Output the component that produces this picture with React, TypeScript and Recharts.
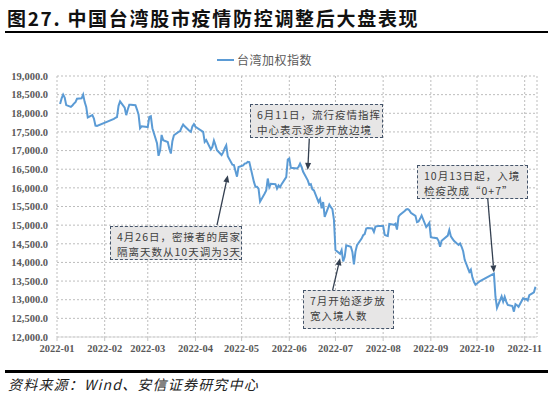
import React from 'react';
import { LineChart, Line, XAxis, YAxis, CartesianGrid, ReferenceLine } from 'recharts';

// month gridlines / x tick labels
const monthLabels = ['2022-01', '2022-02', '2022-03', '2022-04', '2022-05', '2022-06', '2022-07', '2022-08', '2022-09', '2022-10', '2022-11'];
const yTicks = [12000, 12500, 13000, 13500, 14000, 14500, 15000, 15500, 16000, 16500, 17000, 17500, 18000, 18500, 19000];

// 台湾加权指数
const taiex: [string, number][] = [
  ['2022-01-03', 18250], ['2022-01-04', 18400], ['2022-01-05', 18500], ['2022-01-06', 18420], ['2022-01-07', 18220],
  ['2022-01-10', 18170], ['2022-01-11', 18210], ['2022-01-12', 18260], ['2022-01-13', 18300], ['2022-01-14', 18390],
  ['2022-01-17', 18400], ['2022-01-18', 18500], ['2022-01-19', 18300], ['2022-01-20', 18170], ['2022-01-21', 17890],
  ['2022-01-24', 17950], ['2022-01-25', 17860], ['2022-01-26', 17670], ['2022-01-27', 17660],
  ['2022-02-07', 17850], ['2022-02-08', 17880], ['2022-02-09', 17900], ['2022-02-10', 18200], ['2022-02-11', 18320],
  ['2022-02-14', 18150], ['2022-02-15', 17950], ['2022-02-16', 18100], ['2022-02-17', 18230], ['2022-02-18', 18230],
  ['2022-02-21', 18215], ['2022-02-22', 18100], ['2022-02-23', 17970], ['2022-02-24', 17600], ['2022-02-25', 17650],
  ['2022-03-01', 17630], ['2022-03-02', 17900], ['2022-03-03', 17920], ['2022-03-04', 17600],
  ['2022-03-07', 17200], ['2022-03-08', 16860], ['2022-03-09', 17000], ['2022-03-10', 17420], ['2022-03-11', 17280],
  ['2022-03-14', 17230], ['2022-03-15', 17050], ['2022-03-16', 16920], ['2022-03-17', 17250], ['2022-03-18', 17410],
  ['2022-03-21', 17500], ['2022-03-22', 17520], ['2022-03-23', 17620], ['2022-03-24', 17700], ['2022-03-25', 17650],
  ['2022-03-28', 17530], ['2022-03-29', 17500], ['2022-03-30', 17650], ['2022-03-31', 17710],
  ['2022-04-01', 17640], ['2022-04-06', 17500], ['2022-04-07', 17230], ['2022-04-08', 17280],
  ['2022-04-11', 17030], ['2022-04-12', 17100], ['2022-04-13', 17270], ['2022-04-14', 17150], ['2022-04-15', 17010],
  ['2022-04-18', 16880], ['2022-04-19', 16950], ['2022-04-20', 17060], ['2022-04-21', 17140], ['2022-04-22', 16850],
  ['2022-04-25', 16620], ['2022-04-26', 16610], ['2022-04-27', 16450], ['2022-04-28', 16300], ['2022-04-29', 16560],
  ['2022-05-02', 16600], ['2022-05-03', 16650], ['2022-05-04', 16660], ['2022-05-05', 16700], ['2022-05-06', 16690],
  ['2022-05-09', 16160], ['2022-05-10', 16030], ['2022-05-11', 16030], ['2022-05-12', 15980], ['2022-05-13', 15630],
  ['2022-05-16', 15850], ['2022-05-17', 15930], ['2022-05-18', 16250], ['2022-05-19', 16020], ['2022-05-20', 16110],
  ['2022-05-23', 16100], ['2022-05-24', 15980], ['2022-05-25', 16070], ['2022-05-26', 16020], ['2022-05-27', 16100],
  ['2022-05-30', 16290], ['2022-05-31', 16760],
  ['2022-06-01', 16790], ['2022-06-02', 16540], ['2022-06-06', 16520], ['2022-06-07', 16560], ['2022-06-08', 16650],
  ['2022-06-09', 16560], ['2022-06-10', 16430], ['2022-06-13', 16200], ['2022-06-14', 16080], ['2022-06-15', 16100],
  ['2022-06-16', 15960], ['2022-06-17', 15930], ['2022-06-20', 15620], ['2022-06-21', 15700], ['2022-06-22', 15450],
  ['2022-06-23', 15620], ['2022-06-24', 15220], ['2022-06-27', 15550], ['2022-06-28', 15480], ['2022-06-29', 15430],
  ['2022-06-30', 15150],
  ['2022-07-01', 14330], ['2022-07-04', 14230], ['2022-07-05', 14330], ['2022-07-06', 14030], ['2022-07-07', 14150],
  ['2022-07-08', 14460], ['2022-07-11', 14420], ['2022-07-12', 14280], ['2022-07-13', 13950], ['2022-07-14', 14290],
  ['2022-07-15', 14460], ['2022-07-18', 14640], ['2022-07-19', 14730], ['2022-07-20', 14760], ['2022-07-21', 14910],
  ['2022-07-22', 14920], ['2022-07-25', 14910], ['2022-07-26', 14820], ['2022-07-27', 14960], ['2022-07-28', 14970],
  ['2022-07-29', 14980],
  ['2022-08-01', 14980], ['2022-08-02', 14740], ['2022-08-03', 14720], ['2022-08-04', 14710], ['2022-08-05', 15030],
  ['2022-08-08', 15010], ['2022-08-09', 15040], ['2022-08-10', 14880], ['2022-08-11', 15230], ['2022-08-12', 15280],
  ['2022-08-15', 15380], ['2022-08-16', 15420], ['2022-08-17', 15430], ['2022-08-18', 15400], ['2022-08-19', 15330],
  ['2022-08-22', 15250], ['2022-08-23', 15080], ['2022-08-24', 15100], ['2022-08-25', 15170], ['2022-08-26', 15260],
  ['2022-08-29', 14950], ['2022-08-30', 15000], ['2022-08-31', 15060],
  ['2022-09-01', 14680], ['2022-09-02', 14670], ['2022-09-05', 14650], ['2022-09-06', 14580], ['2022-09-07', 14420],
  ['2022-09-08', 14580], ['2022-09-12', 14720], ['2022-09-13', 14870], ['2022-09-14', 14700], ['2022-09-15', 14640],
  ['2022-09-16', 14580], ['2022-09-19', 14470], ['2022-09-20', 14510], ['2022-09-21', 14420], ['2022-09-22', 14300],
  ['2022-09-23', 14070], ['2022-09-26', 13750], ['2022-09-27', 13810], ['2022-09-28', 13600], ['2022-09-29', 13480],
  ['2022-09-30', 13400],
  ['2022-10-03', 13500], ['2022-10-12', 13700], ['2022-10-13', 13080], ['2022-10-14', 12780],
  ['2022-10-17', 13090], ['2022-10-18', 12950], ['2022-10-19', 13080], ['2022-10-20', 12950], ['2022-10-21', 12860],
  ['2022-10-24', 12830], ['2022-10-25', 12680], ['2022-10-26', 12880], ['2022-10-27', 12850], ['2022-10-28', 12810],
  ['2022-10-31', 13040], ['2022-11-01', 13010], ['2022-11-02', 13020], ['2022-11-03', 12980], ['2022-11-04', 13120],
  ['2022-11-07', 13200], ['2022-11-08', 13350],
];

// callouts: text lines, arrow start/end in (date, index level)
const notes = [
  { lines: ['4月26日，密接者的居家', '隔离天数从10天调为3天'], from: ['2022-04-15', 15000], to: ['2022-04-22', 16340] },
  { lines: ['6月11日，流行疫情指挥', '中心表示逐步开放边境'], from: ['2022-06-14', 17320], to: ['2022-06-13', 16480] },
  { lines: ['7月开始逐步放', '宽入境人数'], from: ['2022-06-29', 13230], to: ['2022-07-04', 14110] },
  { lines: ['10月13日起，入境', '检疫改成“0+7”'], from: ['2022-10-08', 15700], to: ['2022-10-12', 13730] },
];
const boxPos = [
  { left: 110, top: 226, width: 132, height: 34 },
  { left: 250, top: 104, width: 133, height: 34 },
  { left: 303, top: 290, width: 91, height: 39 },
  { left: 417, top: 165, width: 111, height: 34 },
];

const toDay = (s: string) => (Date.parse(s) - Date.parse('2022-01-01')) / 86400000;
const data = taiex.map(([d, v]) => ({ day: toDay(d), value: v }));
const xTicks = monthLabels.map((m) => toDay(m + '-01'));

const axisFont = { fontFamily: '"Liberation Serif", serif', fontWeight: 'bold', fontSize: 10.5, fill: '#595959' };

const Arrow = (props: any) => {
  const { x1, y1, x2, y2 } = props;
  const a = Math.atan2(y2 - y1, x2 - x1);
  const bx = x2 - 7 * Math.cos(a);
  const by = y2 - 7 * Math.sin(a);
  const px = -Math.sin(a) * 3;
  const py = Math.cos(a) * 3;
  return (
    <g>
      <line x1={x1} y1={y1} x2={bx} y2={by} stroke="#333f50" strokeWidth={1.3} />
      <polygon points={`${x2},${y2} ${bx + px},${by + py} ${bx - px},${by - py}`} fill="#333f50" />
    </g>
  );
};

export default function App() {
  return (
    <div style={{ position: 'absolute', left: 0, top: 0, width: 550, height: 399, background: '#fff', overflow: 'hidden', fontFamily: '"Noto Sans CJK SC", sans-serif' }}>
      <div style={{ position: 'absolute', left: 7, top: 4, fontSize: 19, fontWeight: 'bold', letterSpacing: 1.7, color: '#111', whiteSpace: 'nowrap' }}>
        图27. 中国台湾股市疫情防控调整后大盘表现
      </div>
      <div style={{ position: 'absolute', left: 5, top: 31, width: 543, height: 2, background: '#000' }} />

      <div style={{ position: 'absolute', left: 0, top: 0 }}>
        <LineChart width={550} height={399} data={data} margin={{ top: 76, right: 13, bottom: 32, left: 7 }}>
          <CartesianGrid stroke="#bdbdbd" strokeDasharray="2 2" />
          <XAxis
            dataKey="day"
            type="number"
            domain={[0, 312]}
            ticks={xTicks}
            tickFormatter={(t: number) => monthLabels[xTicks.indexOf(t)]}
            interval={0}
            height={30}
            tick={axisFont}
            axisLine={{ stroke: '#d9d9d9' }}
            tickLine={{ stroke: '#c4c4c4' }}
            tickSize={4}
            tickMargin={4}
          />
          <YAxis
            type="number"
            domain={[12000, 19000]}
            ticks={yTicks}
            interval={0}
            width={50}
            tick={axisFont}
            tickFormatter={(v: number) => v.toLocaleString('en-US', { minimumFractionDigits: 1, maximumFractionDigits: 1 })}
            axisLine={false}
            tickLine={false}
            tickSize={0}
            tickMargin={9}
          />
          <Line dataKey="value" type="linear" stroke="#5b9bd5" strokeWidth={2} dot={false} isAnimationActive={false} />
          {notes.map((n, i) => (
            <ReferenceLine
              key={i}
              segment={[
                { x: toDay(n.from[0] as string), y: n.from[1] as number },
                { x: toDay(n.to[0] as string), y: n.to[1] as number },
              ]}
              shape={<Arrow />}
            />
          ))}
        </LineChart>
      </div>

      {/* legend */}
      <div style={{ position: 'absolute', left: 217, top: 59, width: 17, height: 2, background: '#5b9bd5' }} />
      <div style={{ position: 'absolute', left: 237, top: 51, fontSize: 12, letterSpacing: 0.5, color: '#595959', whiteSpace: 'nowrap' }}>台湾加权指数</div>

      {notes.map((n, i) => (
        <div
          key={i}
          style={{
            position: 'absolute',
            ...boxPos[i],
            boxSizing: 'border-box',
            background: '#e7e6e6',
            border: '1.3px dashed #44546a',
            color: '#404040',
            fontSize: 10.5,
            letterSpacing: 1,
            lineHeight: '15px',
            padding: '2px 0 0 6px',
            whiteSpace: 'nowrap',
          }}
        >
          {n.lines.map((l, j) => (
            <div key={j}>{l}</div>
          ))}
        </div>
      ))}

      <div style={{ position: 'absolute', left: 5, top: 370, width: 543, height: 2.5, background: '#000' }} />
      <div style={{ position: 'absolute', left: 8, top: 374, fontSize: 14, fontStyle: 'italic', letterSpacing: 1.2, color: '#222', whiteSpace: 'nowrap' }}>
        资料来源：Wind、安信证券研究中心
      </div>
    </div>
  );
}
